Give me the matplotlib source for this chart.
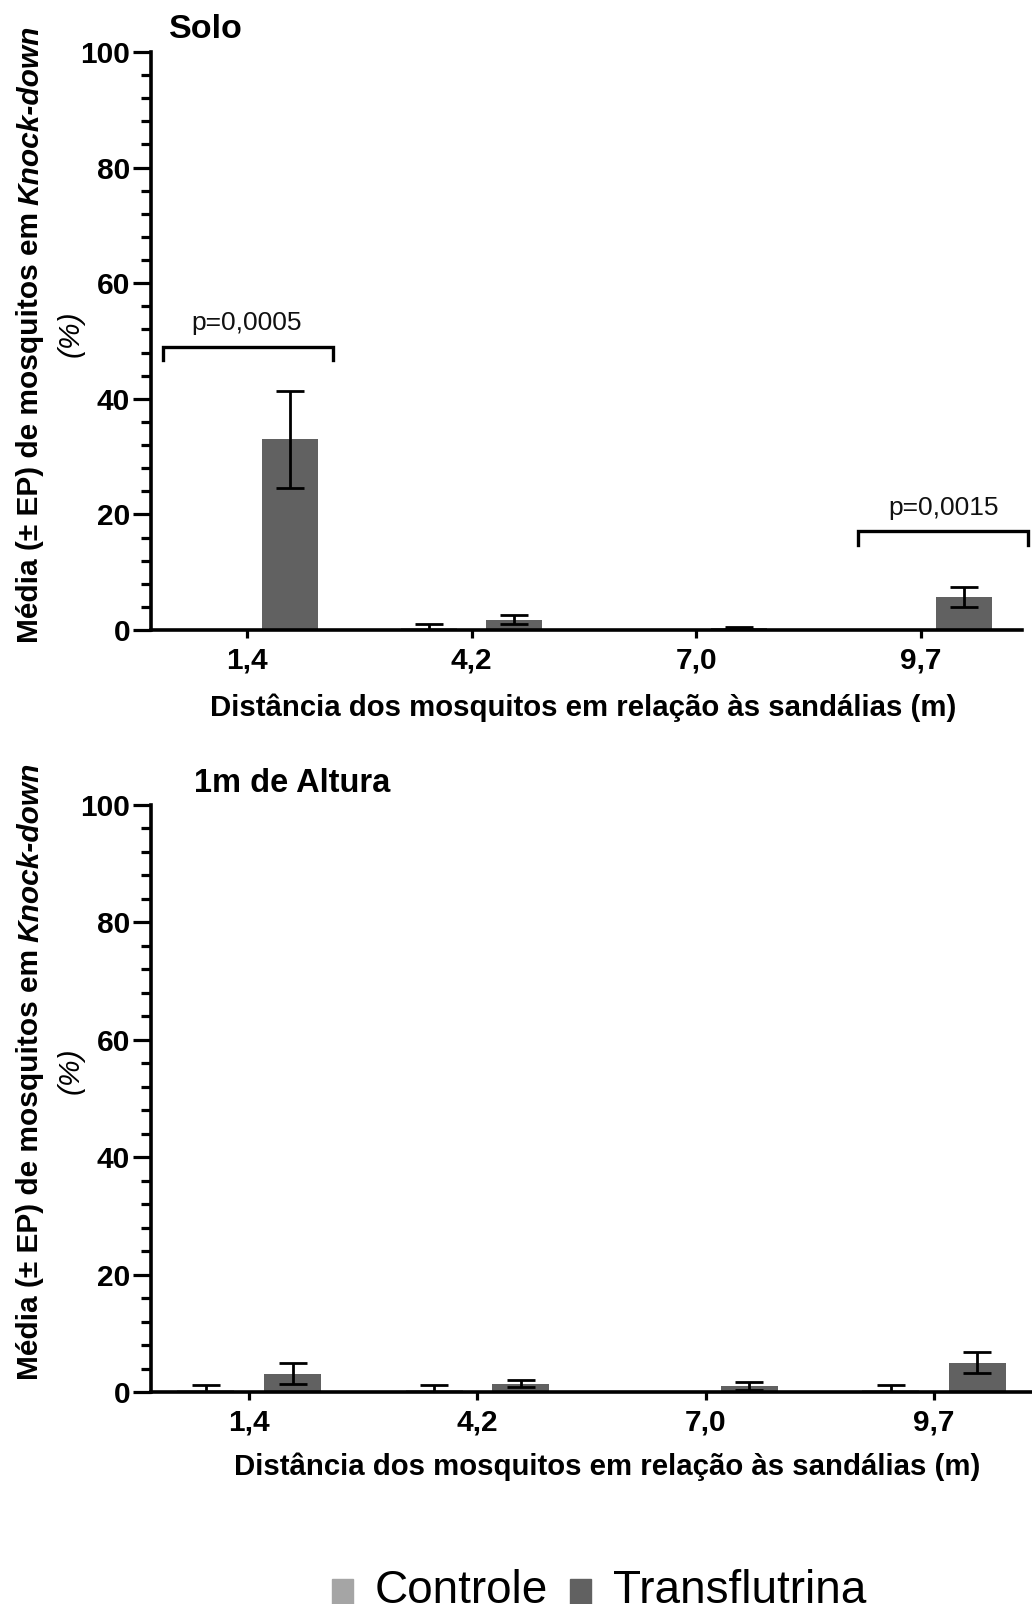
import matplotlib
matplotlib.use('Agg')
import matplotlib.pyplot as plt
from matplotlib.patches import Rectangle
from matplotlib.ticker import MultipleLocator
import numpy as np

W, H = 1032, 1604
DPI = 100

# ---------------- data ----------------
distances = ['1,4', '4,2', '7,0', '9,7']
solo_controle = [0.0, 0.3, 0.0, 0.0]
solo_controle_ep = [0.0, 0.7, 0.0, 0.0]
solo_trans = [33.0, 1.8, 0.3, 5.7]
solo_trans_ep = [8.4, 0.8, 0.2, 1.7]
alt_controle = [0.4, 0.4, 0.0, 0.4]
alt_controle_ep = [0.8, 0.8, 0.0, 0.8]
alt_trans = [3.1, 1.4, 1.05, 5.0]
alt_trans_ep = [1.8, 0.6, 0.65, 1.75]
legend_labels = ['Controle', 'Transflutrina']
p_labels = ['p=0,0005', 'p=0,0015']

C_CTRL = '#a5a5a5'
C_TRANS = '#616161'
FONT = 'Liberation Sans'
FS = 21.5

plt.rcParams['font.family'] = [FONT, 'DejaVu Sans']

fig = plt.figure(figsize=(W / DPI, H / DPI), dpi=DPI)


def px_rect(l, t, r, b):
    return [l / W, 1 - b / H, (r - l) / W, (b - t) / H]


def fx(x):
    return x / W


def fy(y):
    return 1 - y / H


def draw_panel(rect, xlim, ctrl, ctrl_ep, trans, trans_ep):
    ax = fig.add_axes(rect)
    x = np.arange(len(distances))
    bw = 0.25
    off = 0.19
    ctrl = np.array(ctrl); ctrl_ep = np.array(ctrl_ep)
    trans = np.array(trans); trans_ep = np.array(trans_ep)
    ax.bar(x - off, ctrl, bw, color=C_CTRL, linewidth=0, zorder=2)
    ax.bar(x + off, trans, bw, color=C_TRANS, linewidth=0, zorder=2)
    for xs, m, e in ((x - off, ctrl, ctrl_ep), (x + off, trans, trans_ep)):
        mask = e > 0
        lower = np.minimum(e, m)
        ax.errorbar(xs[mask], m[mask], yerr=[lower[mask], e[mask]], fmt='none',
                    ecolor='black', elinewidth=2.0, capsize=10, capthick=2.0,
                    zorder=3)
    ax.set_xlim(*xlim)
    ax.set_ylim(0, 100)
    ax.set_xticks(x)
    ax.set_xticklabels(distances, fontsize=FS, fontweight='bold')
    ax.yaxis.set_major_locator(MultipleLocator(20))
    ax.yaxis.set_minor_locator(MultipleLocator(4))
    for lab in ax.get_yticklabels():
        lab.set_fontsize(FS)
        lab.set_fontweight('bold')
    ax.tick_params(axis='x', length=6, width=2.3, pad=6)
    ax.tick_params(axis='y', which='major', length=13, width=2.3, pad=2)
    ax.tick_params(axis='y', which='minor', length=7.5, width=2.3)
    for s in ('top', 'right'):
        ax.spines[s].set_visible(False)
    for s in ('left', 'bottom'):
        ax.spines[s].set_linewidth(2.6)
        ax.spines[s].set_zorder(4)
    ax.patch.set_alpha(0)
    return ax


ax1 = draw_panel(px_rect(151, 52, 1022, 630), (-0.427, 3.449),
                 solo_controle, solo_controle_ep, solo_trans, solo_trans_ep)
ax2 = draw_panel(px_rect(151, 805, 1031, 1392), (-0.43, 3.425),
                 alt_controle, alt_controle_ep, alt_trans, alt_trans_ep)

# significance brackets (top panel)
def bracket(ax, x0, x1, y, drop, text, tx):
    ax.plot([x0, x0, x1, x1], [y - drop, y, y, y - drop], color='black',
            lw=2.4, clip_on=False, zorder=5, solid_joinstyle='miter')
    ax.text(tx, y + 2.0, text, ha='center', va='bottom', fontsize=19,
            color='#111111')

bracket(ax1, -0.373, 0.382, 49.0, 2.3, p_labels[0], 0.0)
bracket(ax1, 2.72, 3.476, 17.1, 2.4, p_labels[1], 3.1)

# titles
fig.text(fx(169), fy(29), 'Solo', fontsize=24.5, fontweight='bold',
         ha='left', va='center')
fig.text(fx(194), fy(784), '1m de Altura', fontsize=23.5, fontweight='bold',
         ha='left', va='center')

# x labels
xlab = 'Distância dos mosquitos em relação às sandálias (m)'
fig.text(fx(583), fy(708), xlab, fontsize=21.2, fontweight='bold',
         ha='center', va='center')
fig.text(fx(607), fy(1467), xlab, fontsize=21.2, fontweight='bold',
         ha='center', va='center')

# y labels (mixed bold / bold-italic, rotated)
renderer = fig.canvas.get_renderer()
YFS = 21.5


def ylabel(x_px, yc_px, x2_px):
    p1 = 'Média (± EP) de mosquitos em'
    p2 = 'Knock-down'
    t1 = fig.text(0, 0, p1, fontsize=YFS, fontweight='bold')
    t2 = fig.text(0, 0, p2, fontsize=YFS, fontweight='bold', fontstyle='italic')
    w1 = t1.get_window_extent(renderer).width
    w2 = t2.get_window_extent(renderer).width
    t1.remove(); t2.remove()
    gap = 7
    total = w1 + gap + w2
    ybot = yc_px + total / 2  # pixel from top
    fig.text(fx(x_px), fy(ybot), p1, fontsize=YFS, fontweight='bold',
             rotation=90, rotation_mode='anchor', ha='left', va='center')
    fig.text(fx(x_px), fy(ybot - w1 - gap), p2, fontsize=YFS, fontweight='bold',
             fontstyle='italic', rotation=90, rotation_mode='anchor',
             ha='left', va='center')
    fig.text(fx(x2_px), fy(yc_px), '(%)', fontsize=YFS, fontweight='normal',
             fontstyle='italic', rotation=90, rotation_mode='anchor',
             ha='center', va='center')

ylabel(30, 334, 71)
ylabel(30, 1071, 71)

# legend
fig.patches.append(Rectangle((fx(332), fy(1604)), (353 - 332) / W, 25 / H,
                             transform=fig.transFigure, color=C_CTRL))
fig.patches.append(Rectangle((fx(570), fy(1604)), (591 - 570) / W, 25 / H,
                             transform=fig.transFigure, color=C_TRANS))
fig.text(fx(375), fy(1603), legend_labels[0], fontsize=33, ha='left',
         va='baseline')
fig.text(fx(613), fy(1603), legend_labels[1], fontsize=33, ha='left',
         va='baseline')

fig.savefig('out.png', dpi=DPI)
